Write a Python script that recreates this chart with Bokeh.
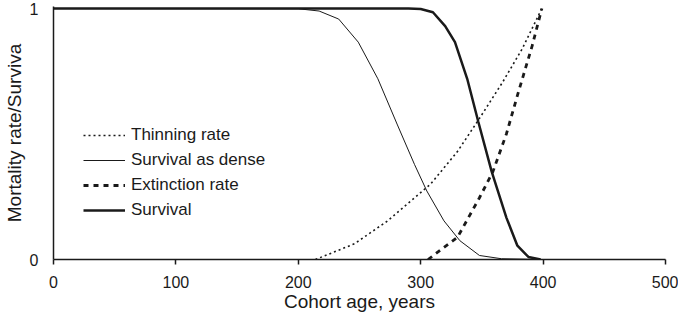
from bokeh.plotting import figure
from bokeh.models import Range1d, FixedTicker, Legend, LegendItem
from bokeh.embed import file_html
from bokeh.resources import INLINE

# Data
thin_age = [214, 246, 273, 295, 308, 330, 348, 367, 383, 399]
thin_val = [0.0, 0.063, 0.154, 0.246, 0.30, 0.43, 0.562, 0.707, 0.84, 1.0]

dense_age = [0, 200, 217, 233, 249, 265, 281, 295, 305, 319, 332, 348, 366, 400]
dense_val = [1.0, 0.999, 0.99, 0.958, 0.866, 0.72, 0.536, 0.378, 0.273, 0.154, 0.075, 0.016, 0.003, 0.0]

ext_age = [306, 330, 348, 359, 370, 380, 391, 399]
ext_val = [0.0, 0.088, 0.246, 0.35, 0.5, 0.67, 0.85, 1.0]

surv_age = [0, 290, 300, 310, 320, 328, 338, 347, 358, 370, 379, 388, 398]
surv_val = [1.0, 1.0, 0.998, 0.985, 0.93, 0.866, 0.72, 0.55, 0.35, 0.167, 0.055, 0.01, 0.0]

x_ticks = [0, 100, 200, 300, 400, 500]
y_ticks = [0, 1]

FONT = "Liberation Sans"
INK = "#1a1a1a"

p = figure(width=678, height=315, output_backend="svg", toolbar_location=None,
           x_range=Range1d(0, 500), y_range=Range1d(0, 1.008),
           min_border_left=49, min_border_right=13, min_border_top=6, min_border_bottom=56)
p.outline_line_color = None
p.grid.visible = False
p.background_fill_color = "white"

r1 = p.line(thin_age, thin_val, line_color=INK, line_width=1.6, line_dash="2 3")
r2 = p.line(dense_age, dense_val, line_color=INK, line_width=1.0)
r3 = p.line(ext_age, ext_val, line_color=INK, line_width=2.8, line_dash="5 5")
r4 = p.line(surv_age, surv_val, line_color=INK, line_width=2.5)

legend = Legend(items=[
    LegendItem(label="Thinning rate", renderers=[r1]),
    LegendItem(label="Survival as dense", renderers=[r2]),
    LegendItem(label="Extinction rate", renderers=[r3]),
    LegendItem(label="Survival", renderers=[r4]),
], location=(30, 39))
legend.border_line_color = None
legend.background_fill_alpha = 0
legend.padding = 0
legend.margin = 0
legend.spacing = 5
legend.glyph_width = 42
legend.glyph_height = 20
legend.label_height = 20
legend.label_standoff = 6
legend.label_text_font = FONT
legend.label_text_font_size = "17px"
legend.label_text_color = INK
p.add_layout(legend)

xa = p.xaxis[0]
xa.ticker = FixedTicker(ticks=x_ticks)
xa.axis_label = "Cohort age, years"
ya = p.yaxis[0]
ya.ticker = FixedTicker(ticks=y_ticks)
ya.axis_label = "Mortality rate/Surviva"

for ax in (xa, ya):
    ax.axis_line_color = INK
    ax.axis_line_width = 1.5
    ax.major_tick_line_color = INK
    ax.major_tick_line_width = 1.5
    ax.minor_tick_line_color = None
    ax.major_label_text_font = FONT
    ax.major_label_text_font_size = "16px"
    ax.major_label_text_color = INK
    ax.axis_label_text_font = FONT
    ax.axis_label_text_font_size = "19px"
    ax.axis_label_text_font_style = "normal"
    ax.axis_label_text_color = INK

xa.major_tick_out = 5
xa.major_tick_in = 0
xa.major_label_standoff = 11
xa.axis_label_standoff = 0

ya.major_tick_out = 0
ya.major_tick_in = 0
ya.major_label_standoff = 15
ya.axis_label_standoff = 2

open("out.html", "w").write(file_html(p, INLINE))
